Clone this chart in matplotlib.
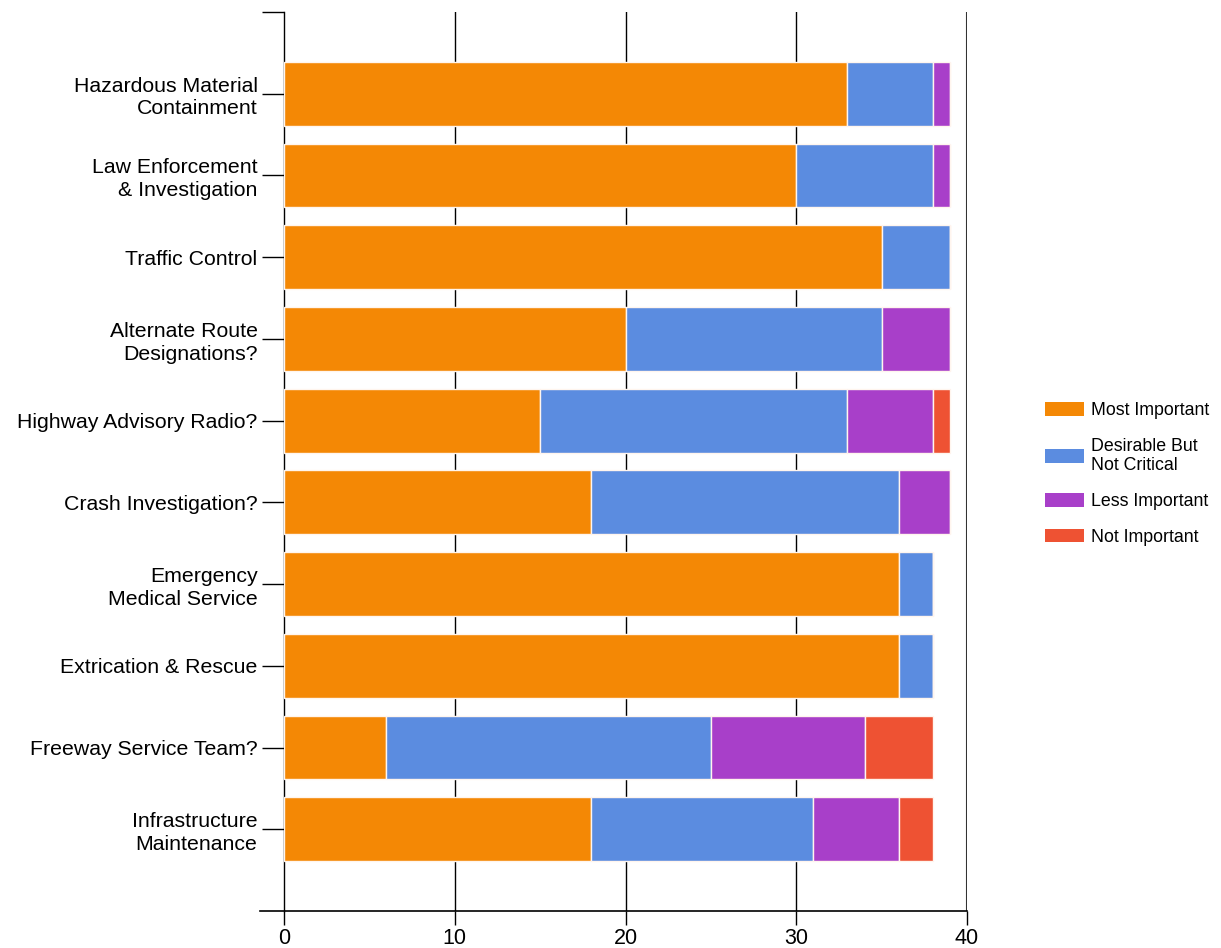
import numpy as np
import matplotlib.pyplot as plt
from matplotlib.patches import Patch
from matplotlib.lines import Line2D

plt.rcParams['font.family'] = ['Liberation Sans', 'DejaVu Sans']

# categories (top to bottom)
categories = [
    "Hazardous Material\nContainment",
    "Law Enforcement\n& Investigation",
    "Traffic Control",
    "Alternate Route\nDesignations?",
    "Highway Advisory Radio?",
    "Crash Investigation?",
    "Emergency\nMedical Service",
    "Extrication & Rescue",
    "Freeway Service Team?",
    "Infrastructure\nMaintenance",
]
most_important = [33, 30, 35, 20, 15, 18, 36, 36, 6, 18]
desirable = [5, 8, 4, 15, 18, 18, 2, 2, 19, 13]
less_important = [1, 1, 0, 4, 5, 3, 0, 0, 9, 5]
not_important = [0, 0, 0, 0, 1, 0, 0, 0, 4, 2]

series_labels = ["Most Important", "Desirable But\nNot Critical", "Less Important", "Not Important"]
series_colors = ["#F48805", "#5B8CE0", "#A83FC9", "#EE5233"]

fig = plt.figure(figsize=(12.21, 9.48), dpi=100)
ax = fig.add_axes([284/1221, 1 - 911/948, (967-284)/1221, (911-12)/948])

y = np.arange(len(categories))
left = np.zeros(len(categories))
for vals, col in zip([most_important, desirable, less_important, not_important], series_colors):
    vals = np.array(vals, dtype=float)
    ax.barh(y, vals, left=left, height=0.78, color=col, edgecolor="#FFF5EE",
            linewidth=1.0, zorder=3)
    left += vals

ax.set_xlim(0, 40)
ax.set_ylim(len(categories), -1)
ax.set_yticks(list(y) + [-1])
ax.set_yticklabels(categories + [""], fontsize=15.3, linespacing=1.25)
ax.set_xticks([0, 10, 20, 30, 40])
ax.tick_params(axis='x', labelsize=15.5, length=10, width=1, direction='out', pad=2)
ax.tick_params(axis='y', length=16, width=1, direction='out', pad=3)

for v in [10, 20, 30]:
    ax.axvline(v, color="black", linewidth=1, zorder=1)
ax.axvline(40, color="#333333", linewidth=1.5, zorder=1)

for s in ["top", "right"]:
    ax.spines[s].set_visible(False)
ax.spines["left"].set_linewidth(1)
ax.spines["bottom"].set_visible(False)
ax.add_line(Line2D([-0.035, 1.0], [0, 0], transform=ax.transAxes, color="black",
                   linewidth=1.2, clip_on=False))

handles = [Patch(facecolor=c, edgecolor="none") for c in series_colors]
fig.legend(handles, series_labels, loc="upper left", bbox_to_anchor=(1029/1221, 1 - 386/948),
           frameon=False, fontsize=12.8, handlelength=2.2, handleheight=0.8,
           handletextpad=0.4, labelspacing=1.05)

fig.savefig("out.png", dpi=100)
